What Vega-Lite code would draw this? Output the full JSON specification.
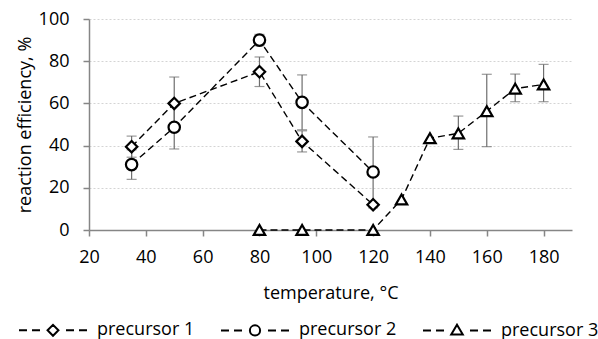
{
  "$schema": "https://vega.github.io/schema/vega-lite/v6.json",
  "autosize": "none",
  "width": 483,
  "height": 211,
  "padding": {"left": 89, "top": 19, "right": 26, "bottom": 109},
  "background": "white",
  "config": {
    "view": {"stroke": null},
    "font": "Open Sans",
    "axis": {
      "labelFont": "Open Sans",
      "titleFont": "Open Sans",
      "labelFontSize": 18,
      "titleFontSize": 18,
      "titleFontWeight": "normal",
      "labelColor": "#000000",
      "titleColor": "#000000",
      "domainColor": "#868686",
      "domainWidth": 1.5,
      "tickColor": "#868686",
      "tickWidth": 1.5,
      "tickSize": 6
    }
  },
  "data": {
    "values": [
      {"series": "precursor 1", "t": 35, "v": 39.5, "lo": 34.5, "hi": 44.5},
      {"series": "precursor 1", "t": 50, "v": 60, "lo": 47.5, "hi": 72.5},
      {"series": "precursor 1", "t": 80, "v": 75, "lo": 68, "hi": 82},
      {"series": "precursor 1", "t": 95, "v": 42, "lo": 37, "hi": 47},
      {"series": "precursor 1", "t": 120, "v": 12, "lo": null, "hi": null},
      {"series": "precursor 2", "t": 35, "v": 31, "lo": 24, "hi": 38},
      {"series": "precursor 2", "t": 50, "v": 48.7, "lo": 38.4, "hi": 59},
      {"series": "precursor 2", "t": 80, "v": 90, "lo": 87.3, "hi": 92.7},
      {"series": "precursor 2", "t": 95, "v": 60.5, "lo": 47.5, "hi": 73.5},
      {"series": "precursor 2", "t": 120, "v": 27.5, "lo": 10.5, "hi": 44.1},
      {"series": "precursor 3", "t": 80, "v": 0, "lo": null, "hi": null},
      {"series": "precursor 3", "t": 95, "v": 0, "lo": null, "hi": null},
      {"series": "precursor 3", "t": 120, "v": 0, "lo": null, "hi": null},
      {"series": "precursor 3", "t": 130, "v": 14.5, "lo": null, "hi": null},
      {"series": "precursor 3", "t": 140, "v": 43.5, "lo": null, "hi": null},
      {"series": "precursor 3", "t": 150, "v": 45.8, "lo": 38.2, "hi": 54},
      {"series": "precursor 3", "t": 160, "v": 56.3, "lo": 39.5, "hi": 73.8},
      {"series": "precursor 3", "t": 170, "v": 67, "lo": 60.8, "hi": 73.9},
      {"series": "precursor 3", "t": 180, "v": 69, "lo": 60.8, "hi": 78.5}
    ]
  },
  "encoding": {
    "x": {
      "field": "t",
      "type": "quantitative",
      "scale": {"domain": [20, 190], "nice": false, "zero": false},
      "axis": {
        "values": [20, 40, 60, 80, 100, 120, 140, 160, 180],
        "grid": false,
        "title": "temperature, °C",
        "labelPadding": 12,
        "titlePadding": 18,
        "labelFlush": false
      }
    }
  },
  "resolve": {"scale": {"shape": "independent"}, "legend": {"shape": "independent"}},
  "layer": [
    {
      "transform": [{"filter": "datum.lo != null"}],
      "mark": {"type": "rule", "color": "#6e6e6e", "strokeWidth": 1.2},
      "encoding": {
        "y": {
          "field": "lo",
          "type": "quantitative",
          "scale": {"domain": [0, 100], "nice": false},
          "axis": {
            "values": [0, 20, 40, 60, 80, 100],
            "grid": true,
            "gridColor": "#d4d4d4",
            "gridDash": [2, 2],
            "gridWidth": 1,
            "title": "reaction efficiency, %",
            "labelPadding": 14,
            "titlePadding": 4
          }
        },
        "y2": {"field": "hi"}
      }
    },
    {
      "transform": [{"filter": "datum.lo != null"}],
      "mark": {"type": "tick", "orient": "horizontal", "color": "#6e6e6e", "size": 10, "thickness": 1.2},
      "encoding": {"y": {"field": "lo", "type": "quantitative"}}
    },
    {
      "transform": [{"filter": "datum.lo != null"}],
      "mark": {"type": "tick", "orient": "horizontal", "color": "#6e6e6e", "size": 10, "thickness": 1.2},
      "encoding": {"y": {"field": "hi", "type": "quantitative"}}
    },
    {
      "mark": {"type": "line", "color": "black", "strokeWidth": 1.4, "strokeDash": [7, 4]},
      "encoding": {
        "y": {"field": "v", "type": "quantitative"},
        "detail": {"field": "series", "type": "nominal"}
      }
    },
    {
      "mark": {"type": "point", "filled": true, "fill": "white", "stroke": "black", "strokeWidth": 2.2, "opacity": 1, "size": 130},
      "encoding": {
        "y": {"field": "v", "type": "quantitative"},
        "shape": {
          "field": "series",
          "type": "nominal",
          "scale": {"domain": ["precursor 1", "precursor 2", "precursor 3"], "range": ["diamond", "circle", "triangle-up"]},
          "legend": null
        }
      }
    },
    {
      "mark": {"type": "point", "filled": false, "color": "black", "strokeWidth": 2, "opacity": 0, "size": 130},
      "encoding": {
        "y": {"field": "v", "type": "quantitative"},
        "shape": {
          "field": "series",
          "type": "nominal",
          "scale": {
            "domain": ["precursor 1", "precursor 2", "precursor 3"],
            "range": [
              "M-1,0H-0.765M-0.618,0H-0.382M0.382,0H0.618M0.765,0H1M-0.16,0L0,-0.16L0.16,0L0,0.16Z",
              "M-1,0H-0.765M-0.618,0H-0.382M0.382,0H0.618M0.765,0H1M-0.15,0A0.15,0.15,0,1,0,0.15,0A0.15,0.15,0,1,0,-0.15,0Z",
              "M-1,0H-0.765M-0.618,0H-0.382M0.382,0H0.618M0.765,0H1M0,-0.17L0.17,0.12L-0.17,0.12Z"
            ]
          },
          "legend": {
            "title": null,
            "orient": "none",
            "direction": "horizontal",
            "legendX": -71,
            "legendY": 276,
            "symbolSize": 4624,
            "symbolStrokeWidth": 2,
            "symbolStrokeColor": "black",
            "symbolOpacity": 1,
            "labelFont": "Open Sans",
            "labelFontSize": 18,
            "labelColor": "black",
            "labelOffset": 9,
            "columnPadding": 22,
            "labelLimit": 300
          }
        }
      }
    }
  ]
}
